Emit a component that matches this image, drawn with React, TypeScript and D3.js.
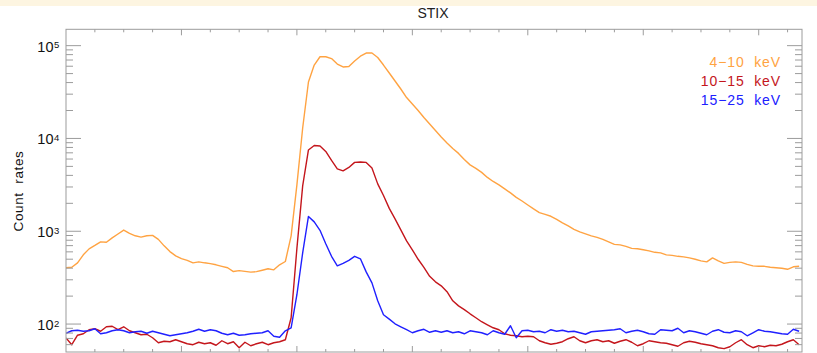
import React, { useEffect, useRef } from 'react';
import * as d3 from 'd3';

// STIX count rates, one sample per 1/5 of a minor time tick
const rate4to10: number[] = [
  404, 410, 457, 557, 646, 703, 769, 760, 849, 935,
  1030, 949, 894, 865, 894, 903, 818, 696, 604, 543,
  507, 486, 457, 468, 457, 448, 435, 419, 404, 368,
  377, 370, 363, 367, 380, 394, 384, 435, 472, 892,
  3158, 12970, 40550, 61800, 75900, 75900, 72600, 63400, 58880, 59600,
  68200, 76900, 83200, 83200, 74500, 61800, 50700, 41600, 34100, 27600,
  23500, 20000, 16800, 14300, 12200, 10380, 8950, 7800, 6900, 5940,
  5190, 4760, 4310, 3800, 3440, 3160, 2860, 2590, 2320, 2120,
  1920, 1740, 1590, 1520, 1450, 1340, 1230, 1143, 1048, 985,
  938, 892, 859, 818, 769, 723, 714, 688, 654, 647,
  631, 615, 593, 585, 557, 550, 537, 530, 517, 499,
  480, 468, 517, 480, 451, 462, 468, 462, 440, 424,
  419, 419, 409, 404, 399, 389, 414, 419,
];

const rate10to15: number[] = [
  70.7, 59.9, 75.8, 78.6, 86.9, 89.0, 83.7, 93.5, 94.7, 86.9,
  93.5, 84.7, 80.6, 76.7, 77.7, 71.2, 62.9, 65.3, 64.5, 67.8,
  64.5, 61.4, 59.9, 63.7, 61.4, 62.9, 59.1, 66.1, 61.4, 64.5,
  55.6, 63.7, 58.4, 61.4, 63.7, 59.9, 62.9, 64.5, 67.8, 117,
  654, 3080, 7520, 8410, 8300, 7240, 5800, 4700, 4470, 4870,
  5520, 5580, 5520, 4810, 3240, 2430, 1764, 1360, 1035, 788,
  631, 499, 409, 327, 285, 258, 223, 178, 157, 143,
  129, 117, 106, 98.2, 91.2, 86.9, 78.6, 75.8, 74.8, 73.0,
  73.9, 73.0, 66.1, 62.9, 60.6, 62.1, 64.5, 69.5, 73.0, 66.1,
  62.9, 66.1, 67.8, 64.5, 66.1, 62.1, 65.3, 67.8, 63.7, 58.4,
  61.4, 66.1, 64.5, 62.9, 62.1, 59.9, 57.7, 62.9, 65.3, 63.7,
  61.4, 59.9, 58.4, 55.6, 54.3, 57.0, 62.9, 67.8, 59.9, 55.6,
  58.4, 57.0, 59.1, 58.4, 60.6, 64.5, 67.8, 59.9,
];

const rate15to25: number[] = [
  79.6, 84.7, 85.8, 83.7, 84.7, 89.0, 78.6, 80.6, 84.7, 86.9,
  84.7, 80.6, 82.6, 83.7, 79.6, 83.7, 80.6, 77.7, 74.8, 76.7,
  78.6, 80.6, 83.7, 87.9, 83.7, 86.9, 84.7, 79.6, 76.7, 79.6,
  75.8, 76.7, 78.6, 79.6, 80.6, 84.7, 73.9, 72.1, 84.7, 91.2,
  207, 585, 1446, 1262, 1023, 732, 537, 424, 451, 486,
  537, 505, 365, 278, 178, 126, 113, 100.7, 93.5, 86.9,
  80.6, 84.7, 87.9, 81.6, 84.7, 81.6, 84.7, 80.6, 82.6, 78.6,
  84.7, 82.6, 80.6, 76.7, 84.7, 80.6, 77.7, 95.9, 71.2, 84.7,
  85.8, 82.6, 83.7, 80.6, 86.9, 83.7, 85.8, 82.6, 83.7, 80.6,
  77.7, 82.6, 83.7, 84.7, 85.8, 86.9, 89.0, 80.6, 83.7, 85.8,
  82.6, 78.6, 77.7, 86.9, 85.8, 84.7, 90.1, 80.6, 84.7, 82.6,
  79.6, 76.7, 83.7, 86.9, 81.6, 80.6, 84.7, 82.6, 74.8, 80.6,
  86.9, 83.7, 82.6, 80.6, 78.6, 77.7, 87.9, 83.7,
];

const bandLabels = ['4\u221210  keV', '10\u221215  keV', '15\u221225  keV'];
const bandColors = ['#ffa342', '#c4161c', '#2020ff'];
const decades = [100, 1000, 10000, 100000];

const App: React.FC = () => {
  const chartRef = useRef<SVGSVGElement>(null);

  useEffect(() => {
    const svg = d3.select(chartRef.current);
    svg.selectAll('*').remove();

    const width = 817;
    const left = 66, right = 802, top = 29.3, bottom = 352;
    const axisColor = '#9c9c9c';
    const font = 'Liberation Sans, Arial, Helvetica, sans-serif';

    const x = d3.scaleLinear().domain([0, 127.5]).range([left, right]);
    const y = d3.scaleLog().domain([50, 150000]).range([bottom, top]);

    // faint header strip
    svg.append('rect')
      .attr('x', 0).attr('y', 0).attr('width', width).attr('height', 6)
      .attr('fill', '#fdf5e1');

    svg.append('text')
      .attr('x', 433).attr('y', 17.5)
      .attr('text-anchor', 'middle')
      .attr('font-family', font).attr('font-size', 14)
      .attr('fill', '#222')
      .text('STIX');

    const defs = svg.append('defs');
    defs.append('clipPath').attr('id', 'plotClip')
      .append('rect')
      .attr('x', left).attr('y', top)
      .attr('width', right - left).attr('height', bottom - top);

    const series = [rate4to10, rate10to15, rate15to25];
    const line = d3.line<number>()
      .x((_, i) => x(i))
      .y(d => y(d));

    const plot = svg.append('g').attr('clip-path', 'url(#plotClip)');
    series.forEach((s, k) => {
      plot.append('path')
        .datum(s)
        .attr('fill', 'none')
        .attr('stroke', bandColors[k])
        .attr('stroke-width', 1.4)
        .attr('stroke-linejoin', 'round')
        .attr('d', line);
    });

    // frame
    svg.append('rect')
      .attr('x', left).attr('y', top)
      .attr('width', right - left).attr('height', bottom - top)
      .attr('fill', 'none').attr('stroke', axisColor).attr('stroke-width', 1);

    const ticks = svg.append('g').attr('stroke', axisColor).attr('stroke-width', 1);

    // time ticks, minor every 5 samples, major every 20
    d3.range(5, 128, 5).forEach(t => {
      const len = t % 20 === 0 ? 6 : 3;
      const px = x(t);
      ticks.append('line').attr('x1', px).attr('x2', px).attr('y1', top).attr('y2', top + len);
      ticks.append('line').attr('x1', px).attr('x2', px).attr('y1', bottom).attr('y2', bottom - len);
    });

    // log ticks
    const [lo, hi] = y.domain();
    const minor: number[] = [];
    [10, 100, 1000, 10000, 100000].forEach(d => {
      d3.range(2, 10).forEach(m => {
        const v = d * m;
        if (v > lo && v < hi) minor.push(v);
      });
    });
    minor.forEach(v => {
      ticks.append('line').attr('x1', left).attr('x2', left + 7).attr('y1', y(v)).attr('y2', y(v));
      ticks.append('line').attr('x1', right).attr('x2', right - 7).attr('y1', y(v)).attr('y2', y(v));
    });
    decades.forEach(v => {
      ticks.append('line').attr('x1', left).attr('x2', left + 15).attr('y1', y(v)).attr('y2', y(v));
      ticks.append('line').attr('x1', right).attr('x2', right - 15).attr('y1', y(v)).attr('y2', y(v));
    });

    const labels = svg.append('g').attr('font-family', font).attr('fill', '#111');
    decades.forEach(v => {
      const py = y(v);
      labels.append('text')
        .attr('x', 53.5).attr('y', py + 6)
        .attr('text-anchor', 'end').attr('font-size', 14.5)
        .text('10');
      labels.append('text')
        .attr('x', 54).attr('y', py + 2.5)
        .attr('font-size', 9.5)
        .text(String(Math.round(Math.log10(v))));
    });

    labels.append('text')
      .attr('transform', 'translate(23,191) rotate(-90)')
      .attr('text-anchor', 'middle')
      .attr('font-size', 13.5)
      .attr('letter-spacing', 0.6)
      .style('white-space', 'pre')
      .text('Count  rates');

    // legend
    bandLabels.forEach((lab, k) => {
      svg.append('text')
        .attr('x', 781).attr('y', 66.5 + k * 19.3)
        .attr('text-anchor', 'end')
        .attr('font-family', font).attr('font-size', 14)
        .attr('letter-spacing', 0.9)
        .style('white-space', 'pre')
        .attr('fill', bandColors[k])
        .text(lab);
    });
  }, []);

  return (
    <svg
      ref={chartRef}
      width={817}
      height={353}
      style={{ position: 'absolute', left: 0, top: 0, background: '#fff' }}
    />
  );
};

export default App;
